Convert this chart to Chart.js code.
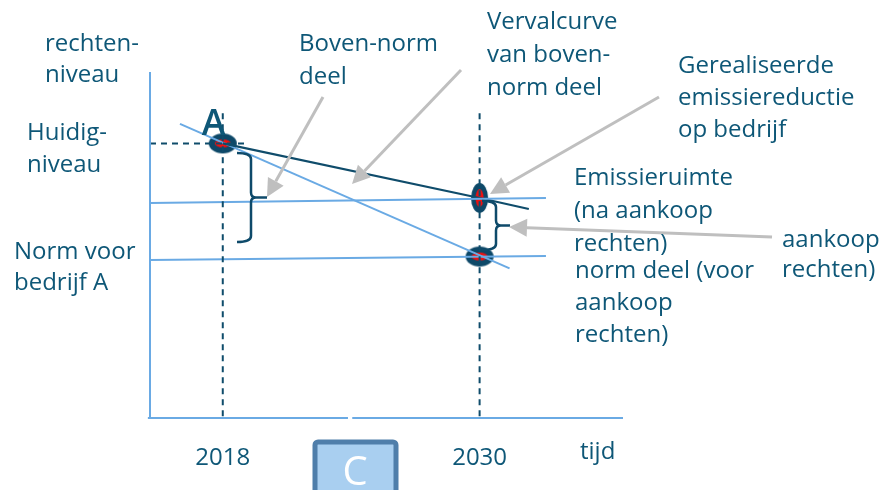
<!DOCTYPE html>
<html>
<head>
<meta charset="utf-8">
<script src="https://cdn.jsdelivr.net/npm/chart.js@4"></script>
<style>
  html, body { margin: 0; padding: 0; background: #fff; }
  #wrap { width: 881px; height: 490px; }
</style>
</head>
<body>
<div id="wrap"><canvas id="chart" width="881" height="490"></canvas></div>
<script>
// Years on the time axis, levels on the "rechten-niveau" axis (huidig niveau = 100)
const tickYears = [2018, 2030];
const axisRange = { xMin: 2014.6, xMax: 2036.7, yMin: 0, yMax: 126 };

// Vervalcurve van boven-norm deel (dark line)
const vervalYears = [2018, 2030, 2032.3];
const vervalLevels = [100, 80.1, 76.1];

// Norm decline (steep light line)
const normDeclineYears = [2016, 2031.4];
const normDeclineLevels = [107.1, 54.5];

// Emissieruimte level (upper horizontal)
const ruimteYears = [2014.6, 2033.1];
const ruimteLevels = [78.3, 80.1];

// Norm voor bedrijf A (lower horizontal)
const normYears = [2014.6, 2033.1];
const normLevels = [57.5, 59.0];

// Marked points: A in 2018, gerealiseerd and norm in 2030
const pointYears = [2018, 2030, 2030];
const pointLevels = [100, 80.1, 58.8];

const huidigNiveau = 100;
const dashTop = 111;

const TEXT = '#0e5777';
const LIGHT = '#6aaae4';
const DARK = '#0f4c6b';
const GREY = '#bfbfbf';

function toPoints(xs, ys) {
    return xs.map((x, i) => ({ x: x, y: ys[i] }));
}

function ellipseMarker(w, h) {
    const c = document.createElement('canvas');
    c.width = w + 2;
    c.height = h + 2;
    const g = c.getContext('2d');
    g.fillStyle = '#0d4868';
    g.beginPath();
    g.ellipse(c.width / 2, c.height / 2, w / 2, h / 2, 0, 0, Math.PI * 2);
    g.fill();
    g.fillStyle = '#ee1111';
    g.beginPath();
    g.ellipse(c.width / 2, c.height / 2, Math.max(w / 2 - 6, 4), Math.max(h / 2 - 6, 4), 0, 0, Math.PI * 2);
    g.fill();
    return c;
}

const markers = [ellipseMarker(28, 20), ellipseMarker(17, 30), ellipseMarker(28, 20)];

function lineSet(data, color, extra) {
    return Object.assign({
        data: data,
        showLine: true,
        borderColor: color,
        borderWidth: 2,
        pointRadius: 0,
        fill: false,
        clip: false,
        order: 1
    }, extra || {});
}

// Labels, callout arrows and braces
const labels = [
    { x: 45, y: 44, lines: ['rechten-', 'niveau'], lh: 31 },
    { x: 27, y: 133, lines: ['Huidig-', 'niveau'], lh: 32 },
    { x: 14, y: 252, lines: ['Norm voor', 'bedrijf A'], lh: 31 },
    { x: 299, y: 44, lines: ['Boven-norm', 'deel'], lh: 33 },
    { x: 487, y: 22, lines: ['Vervalcurve', 'van boven-', 'norm deel'], lh: 33 },
    { x: 678, y: 66, lines: ['Gerealiseerde', 'emissiereductie', 'op bedrijf'], lh: 32 },
    { x: 574, y: 178, lines: ['Emissieruimte', '(na aankoop', 'rechten)'], lh: 33 },
    { x: 575, y: 271, lines: ['norm deel (voor', 'aankoop', 'rechten)'], lh: 32 },
    { x: 782, y: 240, lines: ['aankoop', 'rechten)'], lh: 30 },
    { x: 580, y: 452, lines: ['tijd'], lh: 30 }
];

const arrows = [
    { from: [323, 97], to: [267, 197] },
    { from: [461, 70], to: [352, 184] },
    { from: [659, 97], to: [490, 194] },
    { from: [772, 237], to: [509, 227] }
];

function drawArrow(ctx, a) {
    const [x1, y1] = a.from;
    const [x2, y2] = a.to;
    const ang = Math.atan2(y2 - y1, x2 - x1);
    const len = 18, half = 9;
    const bx = x2 - Math.cos(ang) * len;
    const by = y2 - Math.sin(ang) * len;
    ctx.strokeStyle = GREY;
    ctx.fillStyle = GREY;
    ctx.lineWidth = 3;
    ctx.beginPath();
    ctx.moveTo(x1, y1);
    ctx.lineTo(bx, by);
    ctx.stroke();
    ctx.beginPath();
    ctx.moveTo(x2, y2);
    ctx.lineTo(bx + Math.sin(ang) * half, by - Math.cos(ang) * half);
    ctx.lineTo(bx - Math.sin(ang) * half, by + Math.cos(ang) * half);
    ctx.closePath();
    ctx.fill();
}

function drawBrace(ctx, x, top, bottom, nub) {
    const mid = (top + bottom) / 2;
    ctx.strokeStyle = '#0e4a6a';
    ctx.lineWidth = 2.5;
    ctx.beginPath();
    ctx.moveTo(x - 14, top);
    ctx.quadraticCurveTo(x, top, x, top + 6);
    ctx.lineTo(x, mid - 5);
    ctx.quadraticCurveTo(x, mid, x + 5, mid);
    ctx.lineTo(nub, mid);
    ctx.moveTo(x + 5, mid);
    ctx.quadraticCurveTo(x, mid, x, mid + 5);
    ctx.lineTo(x, bottom - 6);
    ctx.quadraticCurveTo(x, bottom, x - 14, bottom);
    ctx.stroke();
}

const annotationPlugin = {
    id: 'annotations',
    afterDatasetsDraw(chart) {
        const ctx = chart.ctx;
        const xs = chart.scales.x;
        const ys = chart.scales.y;
        ctx.save();

        drawBrace(ctx, 251, 153, 242, 267);
        drawBrace(ctx, 496, 201, 250, 510);

        arrows.forEach(a => drawArrow(ctx, a));

        ctx.fillStyle = TEXT;
        ctx.font = '24px "Open Sans"';
        ctx.textBaseline = 'middle';
        ctx.textAlign = 'left';
        labels.forEach(l => {
            l.lines.forEach((t, i) => ctx.fillText(t, l.x, l.y + i * l.lh));
        });

        // year labels under the axis
        ctx.textAlign = 'center';
        tickYears.forEach(yr => ctx.fillText(String(yr), xs.getPixelForValue(yr), 458));

        // point label A
        ctx.font = '600 36px "Open Sans"';
        ctx.fillText('A', xs.getPixelForValue(2018) - 9, ys.getPixelForValue(huidigNiveau) - 19);

        // C button
        ctx.fillStyle = '#a9cff0';
        ctx.strokeStyle = '#4f7eaa';
        ctx.lineWidth = 5;
        ctx.beginPath();
        ctx.roundRect(315, 442, 81, 60, 3);
        ctx.fill();
        ctx.stroke();
        ctx.fillStyle = '#ffffff';
        ctx.font = '40px "Open Sans"';
        ctx.fillText('C', 355, 474);

        ctx.restore();
    }
};

new Chart(document.getElementById('chart'), {
    type: 'scatter',
    data: {
        datasets: [
            // axes
            lineSet([{ x: axisRange.xMin, y: axisRange.yMax }, { x: axisRange.xMin, y: axisRange.yMin }], LIGHT),
            lineSet([{ x: axisRange.xMin - 0.1, y: 0 }, { x: 2023.85, y: 0 }, { x: 2023.95, y: null }, { x: 2024.05, y: 0 }, { x: axisRange.xMax, y: 0 }], LIGHT, { spanGaps: false }),
            // dashed guides
            lineSet([{ x: axisRange.xMin, y: huidigNiveau }, { x: 2019.2, y: huidigNiveau }], DARK, { borderDash: [6, 5] }),
            ...tickYears.map(yr => lineSet([{ x: yr, y: dashTop }, { x: yr, y: 0 }], DARK, { borderDash: [6, 5] })),
            // series
            lineSet(toPoints(ruimteYears, ruimteLevels), LIGHT),
            lineSet(toPoints(normYears, normLevels), LIGHT),
            lineSet(toPoints(vervalYears, vervalLevels), DARK, { borderWidth: 2.2 }),
            lineSet(toPoints(normDeclineYears, normDeclineLevels), LIGHT),
            {
                data: toPoints(pointYears, pointLevels),
                showLine: false,
                pointStyle: markers,
                pointRadius: 10,
                clip: false,
                order: 10
            }
        ]
    },
    options: {
        responsive: false,
        animation: false,
        layout: { padding: { left: 150, right: 258, top: 72, bottom: 72 } },
        plugins: {
            legend: { display: false },
            tooltip: { enabled: false }
        },
        scales: {
            x: { type: 'linear', display: false, min: axisRange.xMin, max: axisRange.xMax },
            y: { type: 'linear', display: false, min: axisRange.yMin, max: axisRange.yMax }
        }
    },
    plugins: [annotationPlugin]
});
</script>
</body>
</html>
